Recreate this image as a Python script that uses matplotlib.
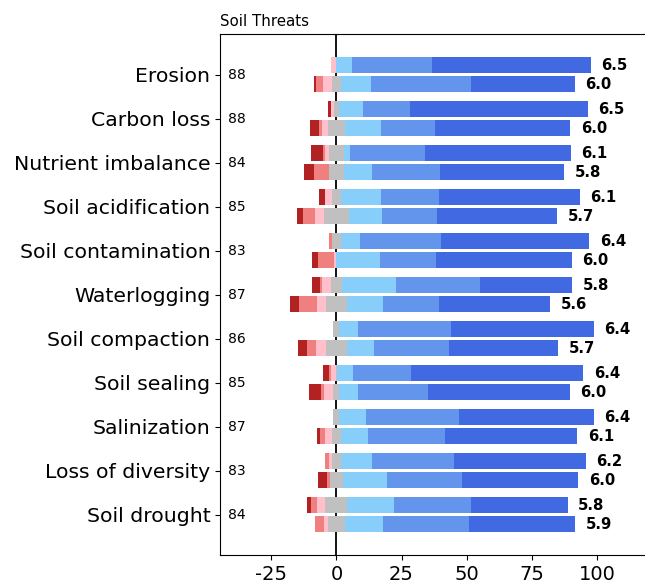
import numpy as np
import matplotlib.pyplot as plt

plt.rcParams['axes.unicode_minus'] = False

categories = ['Erosion', 'Carbon loss', 'Nutrient imbalance', 'Soil acidification',
              'Soil contamination', 'Waterlogging', 'Soil compaction', 'Soil sealing',
              'Salinization', 'Loss of diversity', 'Soil drought']
n_resp = [88, 88, 84, 85, 83, 87, 86, 85, 87, 83, 84]

# mean scores shown at the bar ends
score_top = [6.5, 6.5, 6.1, 6.1, 6.4, 5.8, 6.4, 6.4, 6.4, 6.2, 5.8]
score_bot = [6.0, 6.0, 5.8, 5.7, 6.0, 5.6, 5.7, 6.0, 6.1, 6.0, 5.9]

# percentages per answer level, upper bar of each pair
top_dr = [0, 1.2, 4.6, 2.3, 0, 3.1, 0, 2.3, 0, 0, 1.3]
top_lr = [0, 0, 1.1, 0, 1.1, 0.8, 0, 0.9, 0, 1.3, 2.3]
top_pk = [2.2, 1.1, 1.3, 2.5, 0, 3.2, 0, 1.7, 0, 1.2, 3.4]
top_gr = [0, 2.2, 5.8, 3.4, 3.5, 4.5, 2.3, 0.6, 2.3, 3.4, 8.4]
top_lb = [5.8, 9.0, 2.4, 15.3, 7.3, 20.5, 7.1, 6.2, 10.2, 12.1, 17.8]
top_mb = [30.8, 18.2, 28.6, 22.3, 31.2, 32.3, 35.8, 22.3, 35.8, 31.3, 29.7]
top_rb = [61.2, 68.3, 56.2, 54.2, 56.9, 35.6, 54.8, 66.0, 51.7, 50.7, 37.1]

# lower bar of each pair
bot_dr = [0.9, 3.5, 3.8, 2.3, 2.3, 3.6, 3.6, 4.5, 1.2, 3.7, 0]
bot_lr = [2.5, 1.2, 5.8, 4.7, 6.1, 6.7, 3.5, 1.3, 2.1, 1.0, 3.4]
bot_pk = [3.5, 2.1, 0, 3.5, 1.1, 3.6, 3.6, 3.5, 2.5, 0, 1.5]
bot_gr = [3.3, 6.8, 5.8, 9.5, 0, 8.0, 8.2, 2.3, 3.4, 4.9, 6.8]
bot_lb = [11.5, 13.7, 10.8, 12.8, 16.8, 13.8, 10.3, 7.1, 10.3, 16.9, 14.4]
bot_mb = [38.4, 20.8, 26.1, 21.1, 21.5, 21.6, 29.0, 27.1, 29.8, 28.9, 33.2]
bot_rb = [39.9, 51.9, 47.7, 46.1, 52.2, 42.7, 41.8, 54.2, 50.7, 44.6, 40.7]

colors = ['firebrick', 'lightcoral', 'pink', 'silver',
          'lightskyblue', 'cornflowerblue', 'royalblue']

fig = plt.figure(figsize=(6.45, 5.83), dpi=100)
ax = fig.add_axes([0.3411, 0.0472, 0.665, 0.8945])

y = np.arange(len(categories))
h = 0.37
off = 0.215


def draw_pair(levels, ypos, scores):
    levels = [np.array(l, dtype=float) for l in levels]
    start = -(levels[0] + levels[1] + levels[2] + levels[3] / 2)
    left = start.copy()
    for vals, c in zip(levels, colors):
        ax.barh(ypos, vals, left=left, height=h, color=c, zorder=2)
        left = left + vals
    for yy, xr, s in zip(ypos, left, scores):
        ax.text(xr + 4.0, yy, f'{s:.1f}', ha='left', va='center',
                fontsize=10.7, fontweight='bold')


draw_pair([top_dr, top_lr, top_pk, top_gr, top_lb, top_mb, top_rb], y - off, score_top)
draw_pair([bot_dr, bot_lr, bot_pk, bot_gr, bot_lb, bot_mb, bot_rb], y + off, score_bot)

for yy, n in zip(y, n_resp):
    ax.text(-41.7, yy, str(n), ha='left', va='center', fontsize=10)

ax.axvline(0, color='black', lw=1.3, zorder=1)

ax.set_xlim(-44.7, 120)
ax.set_ylim(len(categories) - 1 + 0.93, -0.925)
ax.set_yticks(y)
ax.set_yticklabels(categories, fontsize=14.7)
ax.set_xticks([-25, 0, 25, 50, 75, 100])
ax.tick_params(axis='x', labelsize=14)
ax.set_title('Soil Threats', loc='left', fontsize=10.8)

fig.savefig('out.png', dpi=100)
